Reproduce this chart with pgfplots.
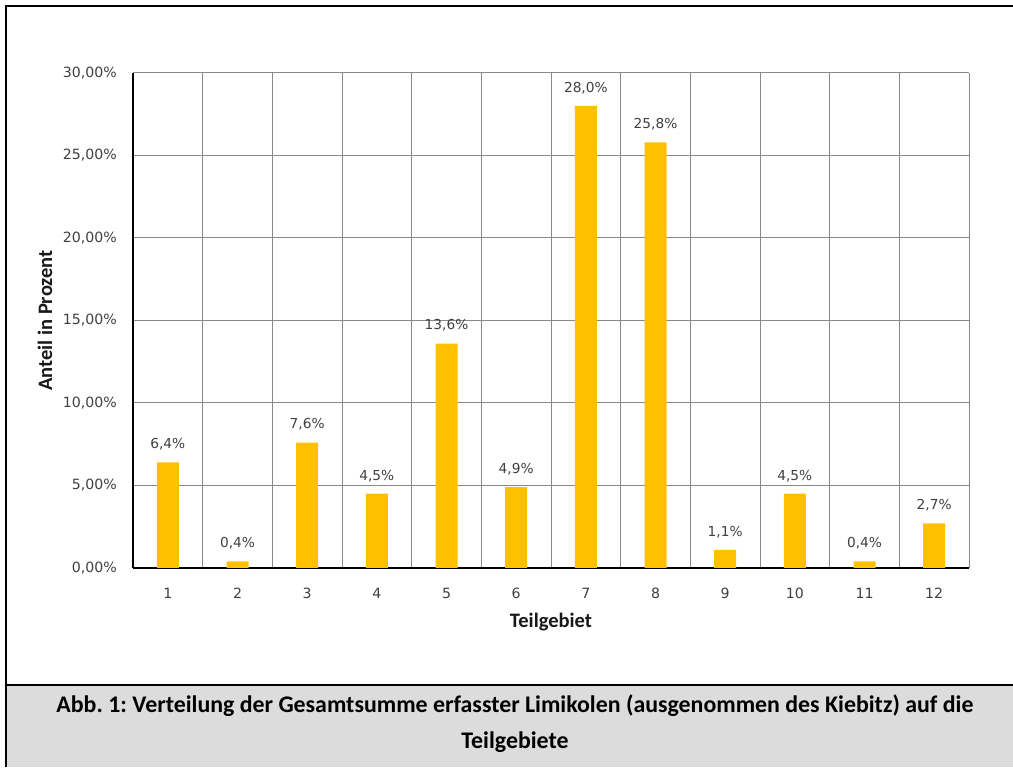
\documentclass[border=0pt]{standalone}
\usepackage{pgfplots}
\pgfplotsset{compat=1.18}
\usepackage{fontspec}
\setmainfont{Carlito}
\newfontfamily\dejavu{DejaVu Sans}
\definecolor{barc}{HTML}{FFC000}
\definecolor{gridc}{HTML}{888888}
\definecolor{capbg}{HTML}{DCDCDC}
\definecolor{txt}{HTML}{404040}
\frenchspacing
\begin{document}
\begin{tikzpicture}[x=0.75pt,y=0.75pt]
\path[use as bounding box] (0,0) rectangle (1013,767);
\fill[capbg] (6,0) rectangle (1013,82);
\draw[line width=1.5pt] (6,0) -- (6,761) -- (1014,761);
\draw[line width=1.5pt] (6,82) -- (1014,82);
\node[anchor=base,font=\fontsize{17.9}{20}\selectfont\bfseries] at (515,54) {Abb. 1: Verteilung der Gesamtsumme erfasster Limikolen (ausgenommen des Kiebitz) auf die};
\node[anchor=base,font=\fontsize{17.9}{20}\selectfont\bfseries] at (515,19) {Teilgebiete};
\begin{axis}[
  at={(99.75pt,149.25pt)}, anchor=south west,
  scale only axis, width=627pt, height=371.25pt,
  xmin=0.5, xmax=12.5, ymin=0, ymax=30,
  xtick={1,...,12},
  minor xtick={0.5,1.5,...,12.5},
  ytick={0,5,...,30},
  yticklabels={{0,00\%},{5,00\%},{10,00\%},{15,00\%},{20,00\%},{25,00\%},{30,00\%}},
  xminorgrids, ymajorgrids,
  grid style={gridc, line width=0.75pt},
  minor grid style={gridc, line width=0.75pt},
  axis x line=bottom, axis y line=left,
  axis line style={-, black, line width=0.9pt},
  major tick length=0pt, minor tick length=0pt,
  tick label style={font=\fontsize{10.6}{12}\selectfont\dejavu, text=txt},
  /pgf/number format/assume math mode=true,
  yticklabel style={anchor=east, inner sep=0pt, xshift=-12pt},
  xticklabel style={anchor=north, inner sep=0pt, yshift=-15pt},
  xlabel={Teilgebiet}, ylabel={Anteil in Prozent},
  label style={font=\fontsize{15.4}{18}\selectfont\bfseries, text=black!90},
  xlabel style={at={(axis description cs:0.5,-0.121)}, anchor=base},
  ylabel style={at={(axis description cs:-0.1053,0.5)}, anchor=center},
  ybar, bar width=16.5pt,
  nodes near coords={\pgfmathprintnumber[fixed,fixed zerofill,precision=1,use comma,assume math mode=true]{\pgfplotspointmeta}\%},
  every node near coord/.append style={font=\fontsize{10.3}{12}\selectfont\dejavu, text=txt, anchor=center, inner sep=0pt, yshift=13.5pt},
  clip=false,
]
\addplot[fill=barc, draw=none] coordinates {
(1,6.4) (2,0.4) (3,7.6) (4,4.5) (5,13.6) (6,4.9) (7,28.0) (8,25.8) (9,1.1) (10,4.5) (11,0.4) (12,2.7)
};
\end{axis}
\end{tikzpicture}
\end{document}
